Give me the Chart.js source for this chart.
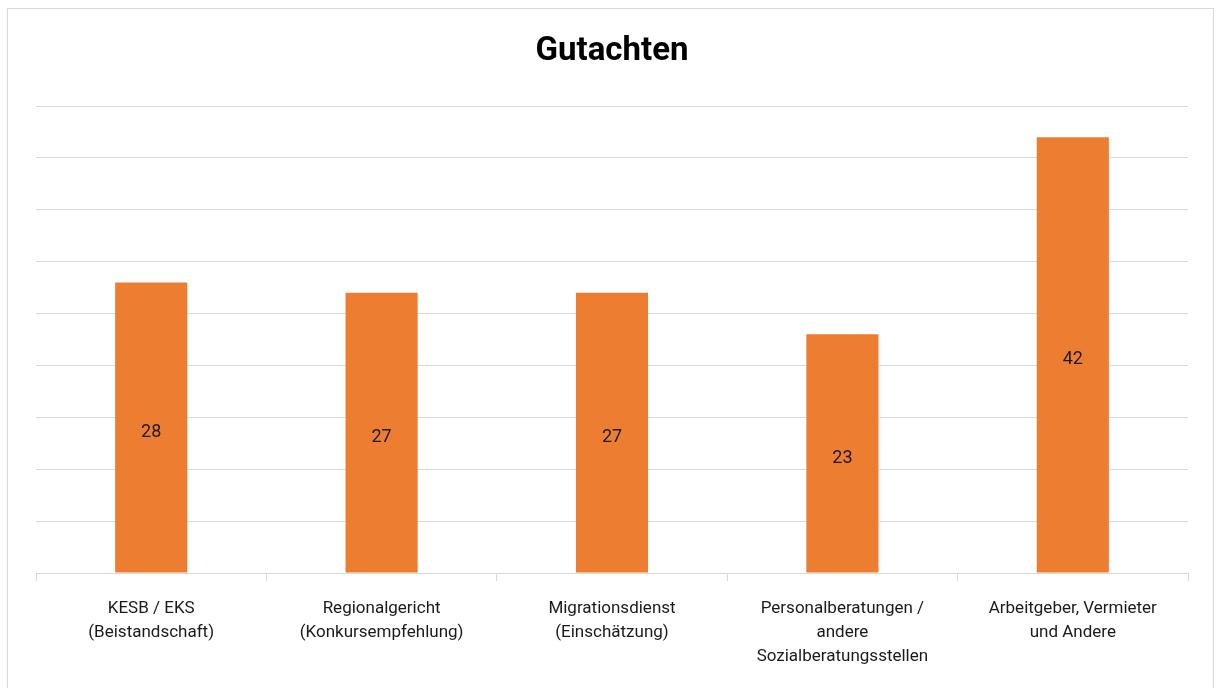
<!DOCTYPE html>
<html>
<head>
<meta charset="utf-8">
<script src="https://cdn.jsdelivr.net/npm/chart.js@4.4.0/dist/chart.umd.min.js"></script>
<style>
  html, body { margin: 0; padding: 0; background: #fff; overflow: hidden; }
  #wrap { position: relative; width: 1218px; height: 688px; }
  #frame { position: absolute; left: 7px; top: 8px; width: 1207px; height: 700px;
           border: 1px solid #d9d9d9; box-sizing: border-box; pointer-events: none; }
</style>
</head>
<body>
<div id="wrap">
  <canvas id="chart" width="1218" height="688"></canvas>
  <div id="frame"></div>
</div>
<script>
// Kategorien und Werte
const categories = [
    ["KESB / EKS", "(Beistandschaft)"],
    ["Regionalgericht", "(Konkursempfehlung)"],
    ["Migrationsdienst", "(Einschätzung)"],
    ["Personalberatungen /", "andere", "Sozialberatungsstellen"],
    ["Arbeitgeber, Vermieter", "und Andere"]
];
const values = [28, 27, 27, 23, 42];

const FONT = '"Liberation Sans Narrow", "Roboto", sans-serif';

// Werte mittig in die Balken schreiben
const centerLabels = {
    id: 'centerLabels',
    afterDatasetsDraw(chart) {
        const ctx = chart.ctx;
        const meta = chart.getDatasetMeta(0);
        ctx.save();
        ctx.fillStyle = '#1a1a1a';
        ctx.font = '18px ' + FONT;
        ctx.textAlign = 'center';
        ctx.textBaseline = 'middle';
        meta.data.forEach(function(bar, i) {
            ctx.fillText(values[i], bar.x, (bar.y + bar.base) / 2 + 5);
        });
        ctx.restore();
    }
};

new Chart(document.getElementById('chart'), {
    type: 'bar',
    data: {
        labels: categories,
        datasets: [{
            data: values,
            backgroundColor: '#ED7D31',
            borderWidth: 0,
            categoryPercentage: 1,
            barPercentage: 0.313
        }]
    },
    options: {
        responsive: false,
        animation: false,
        layout: { padding: { left: 36, right: 30, top: 20, bottom: 0 } },
        plugins: {
            legend: { display: false },
            tooltip: { enabled: false },
            title: {
                display: true,
                text: 'Gutachten',
                color: '#000',
                font: { family: FONT, size: 33, weight: 'bold' },
                padding: { top: 12, bottom: 34.4 }
            }
        },
        scales: {
            x: {
                grid: {
                    offset: true,
                    drawOnChartArea: false,
                    drawTicks: true,
                    tickLength: 8,
                    color: '#d9d9d9'
                },
                border: { color: '#d9d9d9', width: 1 },
                ticks: {
                    color: '#1a1a1a',
                    font: { family: FONT, size: 17, lineHeight: 1.41 },
                    padding: 16,
                    maxRotation: 0,
                    autoSkip: false
                },
                afterFit: function(s) { s.height = 115; }
            },
            y: {
                min: 0,
                max: 45,
                ticks: { display: false, stepSize: 5 },
                grid: { color: '#d9d9d9', drawTicks: false },
                border: { display: false },
                afterFit: function(s) { s.width = 0; }
            }
        }
    },
    plugins: [centerLabels]
});
</script>
</body>
</html>
